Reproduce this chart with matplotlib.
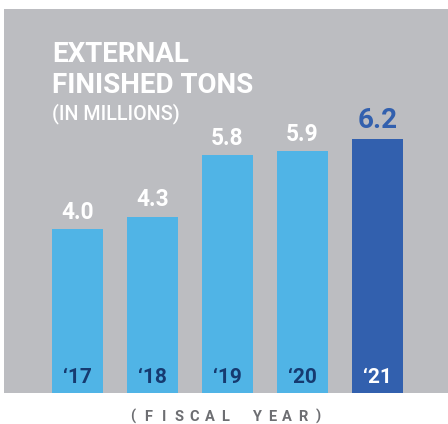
import matplotlib
matplotlib.use("Agg")
import matplotlib.pyplot as plt

years = ["\u201817", "\u201818", "\u201819", "\u201820", "\u201821"]
values = [4.0, 4.3, 5.8, 5.9, 6.2]
value_labels = ["4.0", "4.3", "5.8", "5.9", "6.2"]
axis_title = "(FISCAL YEAR)"

W, H = 448, 424
fig = plt.figure(figsize=(W / 100, H / 100), dpi=100)
fig.patch.set_facecolor("white")

gray = "#bcbdc1"
light = "#50b4e6"
dark = "#3260ae"
navy = "#163a70"

# axes in pixel layout
left, right, top, bottom = 4, 448, 9, 393
ax = fig.add_axes([left / W, (H - bottom) / H, (right - left) / W, (bottom - top) / H])
ax.set_facecolor(gray)
for s in ax.spines.values():
    s.set_visible(False)
ax.set_xticks([])
ax.set_yticks([])

x = list(range(len(values)))
colors = [light] * (len(values) - 1) + [dark]
ax.bar(x, values, width=0.68, color=colors, zorder=2)
ax.set_xlim((left - 77.5) / 75, (right - 77.5) / 75)
ax.set_ylim(0, (bottom - top) / 41)

fam = ["Roboto", "DejaVu Sans"]
for i, (v, lab) in enumerate(zip(values, value_labels)):
    last = i == len(values) - 1
    ax.annotate(lab, (i, v), xytext=(0, 7.5), textcoords="offset points",
                ha="center", va="baseline", fontfamily=fam, fontweight="bold",
                fontsize=20 if last else 16.3, color=dark if last else "white")
    ax.text(i, 0.244, years[i], ha="center", va="baseline", fontfamily=fam,
            fontweight="bold", fontsize=15, color="white" if last else navy, zorder=3)

fig.text(52 / W, 1 - 62 / H, "EXTERNAL", ha="left", va="baseline", fontfamily=fam,
         fontweight="bold", fontsize=20, color="white")
fig.text(52 / W, 1 - 93 / H, "FINISHED TONS", ha="left", va="baseline", fontfamily=fam,
         fontweight="bold", fontsize=20, color="white")
fig.text(52 / W, 1 - 119 / H, "(IN MILLIONS)", ha="left", va="baseline", fontfamily=fam,
         fontweight="medium", fontsize=14.2, color="white")

# letter-spaced axis title
x0, x1 = 133, 318
pitch = (x1 - x0) / (len(axis_title) - 1)
for k, ch in enumerate(axis_title):
    if ch == " ":
        continue
    fig.text((x0 + k * pitch) / W, 1 - 421 / H, ch, ha="center", va="baseline",
             fontfamily=fam, fontweight="bold", fontsize=10.5, color="#6d6e72")

fig.savefig("out.png", dpi=100)
